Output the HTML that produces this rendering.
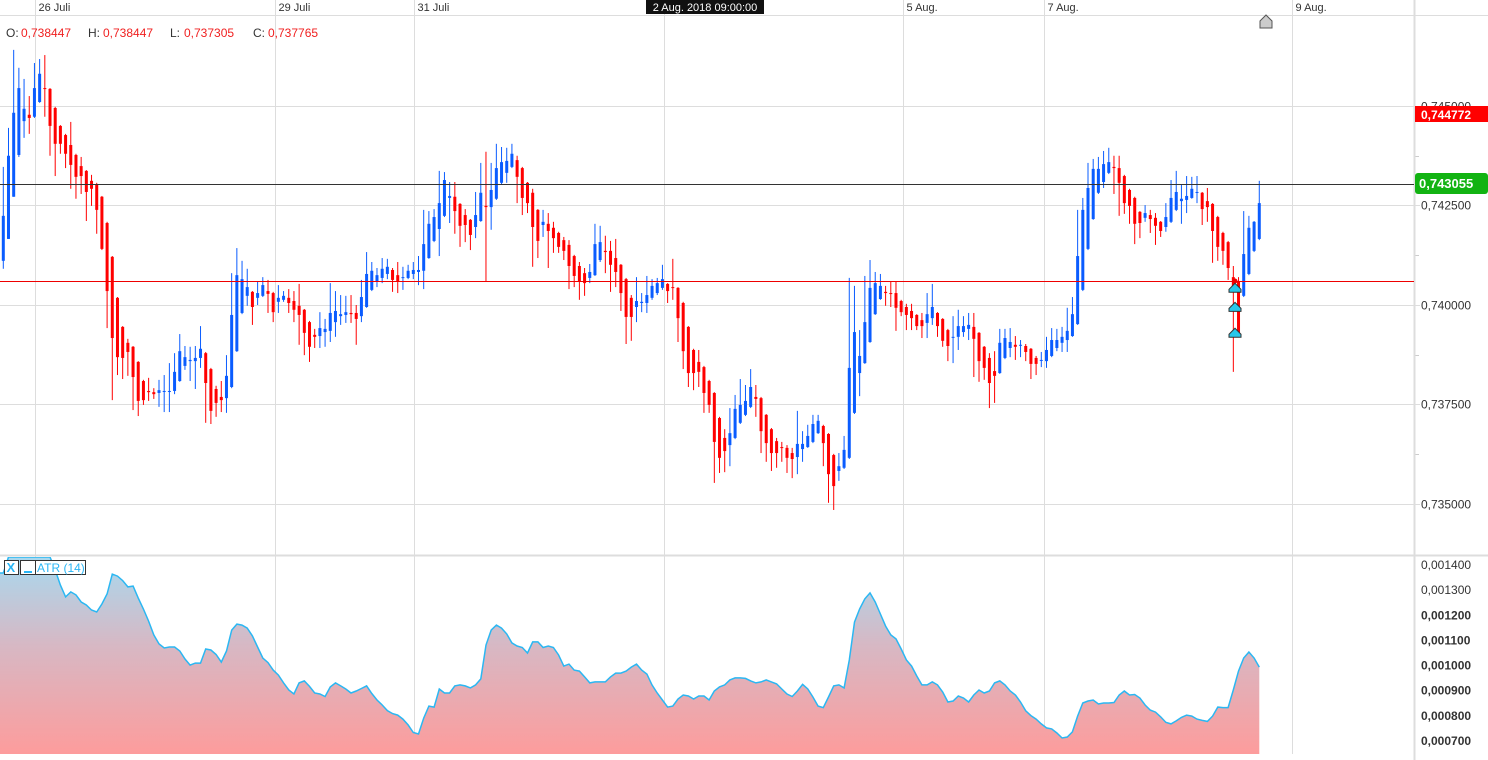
<!DOCTYPE html>
<html><head><meta charset="utf-8"><style>
body{margin:0;background:#fff;width:1488px;height:760px;overflow:hidden;font-family:"Liberation Sans",Arial,sans-serif}
svg{display:block}
text{font-family:"Liberation Sans",Arial,sans-serif}
</style></head><body>
<svg id="chart" width="1488" height="760" viewBox="0 0 1488 760" xmlns="http://www.w3.org/2000/svg">
<defs>
<linearGradient id="atrGrad" x1="0" y1="0" x2="0" y2="1">
<stop offset="0" stop-color="#a8d9ef"/><stop offset="0.45" stop-color="#d7b8c4"/><stop offset="1" stop-color="#fd9c9c"/>
</linearGradient>
<clipPath id="atrClip"><rect x="0" y="557" width="1414" height="198"/></clipPath>
</defs>
<g id="grid"></g>
<g id="atr" clip-path="url(#atrClip)"></g>
<g id="candles"></g>
<g id="overlay"></g>
</svg>
<script>
const opens=[0.74111,0.74166,0.74272,0.74377,0.74462,0.74478,0.74473,0.74510,0.74545,0.74543,0.74495,0.74450,0.74427,0.74402,0.74377,0.74349,0.74337,0.74312,0.74304,0.74272,0.74206,0.74121,0.74018,0.73945,0.73905,0.73895,0.73857,0.73809,0.73784,0.73781,0.73779,0.73783,0.73783,0.73784,0.73809,0.73847,0.73859,0.73859,0.73867,0.73879,0.73839,0.73789,0.73769,0.73766,0.73794,0.73884,0.73980,0.74023,0.74033,0.74018,0.74023,0.74035,0.74030,0.74008,0.74013,0.74018,0.74010,0.73998,0.73988,0.73957,0.73925,0.73922,0.73932,0.73935,0.73957,0.73972,0.73975,0.73980,0.73980,0.73972,0.73995,0.74038,0.74060,0.74068,0.74078,0.74088,0.74075,0.74069,0.74068,0.74078,0.74083,0.74086,0.74118,0.74161,0.74191,0.74224,0.74269,0.74272,0.74254,0.74226,0.74214,0.74196,0.74211,0.74249,0.74246,0.74267,0.74307,0.74332,0.74347,0.74364,0.74344,0.74307,0.74282,0.74239,0.74201,0.74204,0.74194,0.74181,0.74163,0.74151,0.74123,0.74098,0.74080,0.74068,0.74075,0.74113,0.74136,0.74136,0.74118,0.74101,0.74065,0.74018,0.73995,0.74005,0.74005,0.74018,0.74030,0.74043,0.74053,0.74045,0.74043,0.74005,0.73945,0.73887,0.73857,0.73844,0.73809,0.73779,0.73716,0.73666,0.73648,0.73666,0.73704,0.73724,0.73744,0.73769,0.73766,0.73724,0.73688,0.73658,0.73643,0.73641,0.73628,0.73618,0.73638,0.73643,0.73656,0.73678,0.73696,0.73676,0.73623,0.73583,0.73591,0.73616,0.73729,0.73829,0.73854,0.73907,0.73977,0.74015,0.74033,0.74030,0.74030,0.74010,0.73995,0.73985,0.73975,0.73962,0.73955,0.73967,0.73980,0.73965,0.73937,0.73919,0.73920,0.73932,0.73940,0.73945,0.73930,0.73895,0.73867,0.73834,0.73829,0.73867,0.73892,0.73900,0.73899,0.73897,0.73890,0.73867,0.73861,0.73859,0.73872,0.73892,0.73905,0.73912,0.73922,0.73952,0.74038,0.74141,0.74216,0.74282,0.74309,0.74332,0.74347,0.74344,0.74324,0.74289,0.74269,0.74234,0.74219,0.74226,0.74219,0.74209,0.74196,0.74209,0.74239,0.74261,0.74264,0.74269,0.74282,0.74282,0.74261,0.74254,0.74221,0.74181,0.74158,0.74070,0.74058,0.74023,0.74078,0.74136,0.74166];
const closes=[0.74224,0.74375,0.74483,0.74545,0.74493,0.74470,0.74545,0.74581,0.74543,0.74450,0.74405,0.74405,0.74380,0.74352,0.74322,0.74324,0.74284,0.74292,0.74239,0.74141,0.74035,0.73917,0.73869,0.73867,0.73882,0.73819,0.73759,0.73761,0.73781,0.73776,0.73786,0.73784,0.73784,0.73832,0.73884,0.73869,0.73862,0.73867,0.73890,0.73804,0.73734,0.73754,0.73761,0.73822,0.73975,0.74075,0.74065,0.74045,0.73995,0.74030,0.74050,0.74028,0.73982,0.74018,0.74023,0.74005,0.73988,0.73975,0.73930,0.73895,0.73920,0.73942,0.73940,0.73980,0.73985,0.73977,0.73982,0.73977,0.73965,0.74020,0.74078,0.74086,0.74075,0.74091,0.74096,0.74063,0.74058,0.74070,0.74086,0.74088,0.74088,0.74153,0.74204,0.74221,0.74256,0.74314,0.74274,0.74236,0.74199,0.74201,0.74176,0.74226,0.74282,0.74246,0.74289,0.74344,0.74359,0.74362,0.74380,0.74322,0.74269,0.74256,0.74196,0.74161,0.74209,0.74186,0.74168,0.74146,0.74136,0.74098,0.74073,0.74060,0.74055,0.74083,0.74153,0.74158,0.74133,0.74101,0.74083,0.74030,0.73970,0.73970,0.74010,0.74008,0.74025,0.74048,0.74055,0.74065,0.74035,0.74043,0.73967,0.73884,0.73829,0.73829,0.73832,0.73779,0.73749,0.73656,0.73616,0.73633,0.73678,0.73739,0.73749,0.73759,0.73794,0.73764,0.73683,0.73653,0.73628,0.73628,0.73641,0.73616,0.73613,0.73651,0.73651,0.73671,0.73701,0.73709,0.73653,0.73575,0.73545,0.73595,0.73636,0.73842,0.73932,0.73872,0.73957,0.74043,0.74055,0.74048,0.74030,0.74028,0.73993,0.73982,0.73975,0.73967,0.73947,0.73947,0.73977,0.73995,0.73947,0.73910,0.73897,0.73920,0.73947,0.73947,0.73950,0.73915,0.73859,0.73842,0.73804,0.73822,0.73905,0.73917,0.73907,0.73895,0.73900,0.73882,0.73852,0.73852,0.73862,0.73887,0.73912,0.73912,0.73920,0.73935,0.73977,0.74123,0.74239,0.74294,0.74342,0.74342,0.74354,0.74359,0.74344,0.74307,0.74256,0.74249,0.74204,0.74206,0.74231,0.74216,0.74199,0.74186,0.74221,0.74269,0.74284,0.74267,0.74274,0.74292,0.74284,0.74241,0.74246,0.74186,0.74146,0.74136,0.74093,0.74045,0.73925,0.74128,0.74194,0.74209,0.74256];
const highs=[0.74347,0.74445,0.74641,0.74596,0.74568,0.74525,0.74608,0.74618,0.74628,0.74545,0.74498,0.74452,0.74430,0.74460,0.74380,0.74372,0.74339,0.74327,0.74307,0.74274,0.74209,0.74123,0.74020,0.73947,0.73915,0.73897,0.73859,0.73812,0.73817,0.73791,0.73812,0.73824,0.73854,0.73879,0.73927,0.73897,0.73895,0.73897,0.73947,0.73882,0.73842,0.73797,0.73809,0.73874,0.74080,0.74143,0.74111,0.74091,0.74035,0.74058,0.74070,0.74063,0.74033,0.74050,0.74035,0.74040,0.74035,0.74053,0.73990,0.73960,0.73940,0.73982,0.73965,0.74055,0.74035,0.74025,0.74023,0.74025,0.74000,0.74063,0.74133,0.74108,0.74093,0.74118,0.74116,0.74093,0.74108,0.74096,0.74101,0.74108,0.74123,0.74239,0.74236,0.74241,0.74337,0.74334,0.74309,0.74309,0.74256,0.74241,0.74216,0.74284,0.74357,0.74385,0.74357,0.74405,0.74397,0.74395,0.74405,0.74375,0.74347,0.74309,0.74292,0.74241,0.74239,0.74231,0.74209,0.74184,0.74171,0.74163,0.74126,0.74108,0.74093,0.74103,0.74204,0.74199,0.74174,0.74161,0.74166,0.74103,0.74068,0.74025,0.74070,0.74030,0.74073,0.74065,0.74068,0.74101,0.74055,0.74116,0.74045,0.74008,0.73947,0.73890,0.73887,0.73847,0.73812,0.73781,0.73719,0.73688,0.73741,0.73774,0.73814,0.73799,0.73839,0.73799,0.73769,0.73726,0.73691,0.73666,0.73656,0.73648,0.73641,0.73734,0.73683,0.73699,0.73724,0.73724,0.73699,0.73678,0.73626,0.73628,0.73671,0.74068,0.74048,0.73937,0.74073,0.74113,0.74083,0.74078,0.74048,0.74058,0.74058,0.74013,0.74003,0.74003,0.73977,0.73980,0.74030,0.74053,0.73982,0.73967,0.73940,0.73972,0.73988,0.73972,0.73980,0.73980,0.73932,0.73897,0.73879,0.73884,0.73940,0.73940,0.73942,0.73922,0.73912,0.73902,0.73892,0.73872,0.73882,0.73920,0.73942,0.73940,0.73945,0.73993,0.74020,0.74239,0.74269,0.74357,0.74367,0.74372,0.74387,0.74395,0.74375,0.74375,0.74327,0.74292,0.74272,0.74236,0.74251,0.74239,0.74231,0.74211,0.74256,0.74314,0.74337,0.74304,0.74324,0.74322,0.74324,0.74284,0.74294,0.74256,0.74224,0.74184,0.74161,0.74098,0.74070,0.74236,0.74224,0.74211,0.74312];
const lows=[0.74091,0.74166,0.74272,0.74372,0.74420,0.74430,0.74470,0.74508,0.74473,0.74375,0.74324,0.74380,0.74344,0.74292,0.74267,0.74279,0.74211,0.74249,0.74179,0.74138,0.73942,0.73761,0.73824,0.73814,0.73822,0.73736,0.73721,0.73749,0.73759,0.73764,0.73744,0.73731,0.73731,0.73776,0.73807,0.73837,0.73809,0.73789,0.73842,0.73704,0.73701,0.73719,0.73731,0.73729,0.73791,0.73882,0.73977,0.73998,0.73950,0.74000,0.74020,0.73980,0.73957,0.73980,0.74008,0.73980,0.73957,0.73900,0.73874,0.73857,0.73892,0.73892,0.73895,0.73907,0.73920,0.73950,0.73955,0.73955,0.73900,0.73957,0.73993,0.74035,0.74045,0.74055,0.74065,0.74033,0.74030,0.74038,0.74065,0.74065,0.74050,0.74040,0.74116,0.74158,0.74123,0.74221,0.74206,0.74179,0.74146,0.74158,0.74138,0.74168,0.74209,0.74058,0.74189,0.74264,0.74304,0.74307,0.74344,0.74256,0.74226,0.74231,0.74096,0.74118,0.74171,0.74093,0.74131,0.74131,0.74113,0.74040,0.74045,0.74013,0.74023,0.74055,0.74073,0.74108,0.74080,0.74033,0.74045,0.73985,0.73902,0.73910,0.73957,0.73982,0.73980,0.74013,0.74025,0.74038,0.74005,0.74013,0.73907,0.73839,0.73794,0.73786,0.73794,0.73729,0.73729,0.73553,0.73578,0.73580,0.73595,0.73663,0.73701,0.73721,0.73741,0.73719,0.73628,0.73606,0.73583,0.73591,0.73606,0.73578,0.73565,0.73575,0.73606,0.73641,0.73653,0.73676,0.73595,0.73503,0.73485,0.73558,0.73588,0.73613,0.73726,0.73771,0.73852,0.73905,0.73975,0.74013,0.73998,0.73995,0.73935,0.73972,0.73937,0.73937,0.73937,0.73917,0.73917,0.73950,0.73920,0.73895,0.73859,0.73854,0.73887,0.73920,0.73912,0.73819,0.73807,0.73812,0.73741,0.73754,0.73827,0.73864,0.73869,0.73862,0.73869,0.73859,0.73814,0.73824,0.73844,0.73842,0.73869,0.73884,0.73882,0.73882,0.73920,0.73950,0.74035,0.74138,0.74214,0.74279,0.74294,0.74329,0.74279,0.74224,0.74229,0.74204,0.74153,0.74168,0.74209,0.74181,0.74151,0.74171,0.74184,0.74206,0.74236,0.74204,0.74231,0.74267,0.74256,0.74201,0.74209,0.74106,0.74111,0.74101,0.74063,0.73832,0.73920,0.74020,0.74075,0.74133,0.74163];
const atr=[0.001368,0.001432,0.001432,0.001432,0.001432,0.001432,0.001432,0.001432,0.001432,0.001432,0.001380,0.001320,0.001273,0.001293,0.001281,0.001253,0.001241,0.001221,0.001213,0.001245,0.001285,0.001364,0.001356,0.001338,0.001313,0.001316,0.001269,0.001225,0.001177,0.001122,0.001086,0.001070,0.001074,0.001074,0.001058,0.001026,0.001002,0.001010,0.001010,0.001066,0.001062,0.001044,0.001014,0.001058,0.001141,0.001165,0.001161,0.001149,0.001118,0.001074,0.001030,0.001012,0.000982,0.000962,0.000931,0.000903,0.000887,0.000931,0.000939,0.000917,0.000891,0.000887,0.000877,0.000915,0.000931,0.000919,0.000907,0.000891,0.000899,0.000909,0.000919,0.000889,0.000863,0.000843,0.000821,0.000809,0.000803,0.000787,0.000764,0.000734,0.000728,0.000791,0.000839,0.000835,0.000907,0.000891,0.000891,0.000919,0.000923,0.000919,0.000911,0.000923,0.000947,0.001082,0.001141,0.001161,0.001149,0.001126,0.001090,0.001078,0.001072,0.001050,0.001094,0.001094,0.001072,0.001078,0.001072,0.001042,0.000998,0.001006,0.000982,0.000978,0.000955,0.000931,0.000935,0.000935,0.000935,0.000955,0.000970,0.000970,0.000978,0.000994,0.001006,0.000982,0.000966,0.000923,0.000891,0.000863,0.000835,0.000839,0.000867,0.000883,0.000879,0.000867,0.000879,0.000879,0.000863,0.000899,0.000915,0.000923,0.000943,0.000951,0.000951,0.000949,0.000939,0.000931,0.000935,0.000943,0.000935,0.000927,0.000907,0.000887,0.000877,0.000899,0.000925,0.000907,0.000875,0.000839,0.000833,0.000875,0.000919,0.000923,0.000911,0.001022,0.001173,0.001225,0.001265,0.001289,0.001253,0.001205,0.001157,0.001122,0.001106,0.001066,0.001022,0.000998,0.000959,0.000923,0.000923,0.000935,0.000923,0.000895,0.000855,0.000859,0.000879,0.000871,0.000855,0.000883,0.000903,0.000891,0.000899,0.000931,0.000939,0.000923,0.000899,0.000883,0.000855,0.000820,0.000801,0.000787,0.000768,0.000752,0.000748,0.000732,0.000712,0.000716,0.000736,0.000799,0.000851,0.000859,0.000863,0.000847,0.000851,0.000851,0.000853,0.000883,0.000899,0.000883,0.000885,0.000871,0.000843,0.000823,0.000815,0.000796,0.000774,0.000768,0.000780,0.000794,0.000803,0.000799,0.000787,0.000782,0.000778,0.000799,0.000835,0.000833,0.000833,0.000903,0.000978,0.001030,0.001054,0.001030,0.000994];
const priceTicks=[0.745,0.7425,0.74,0.7375,0.735];
const priceTickLabels=["0,745000","0,742500","0,740000","0,737500","0,735000"];
const atrTicks=[0.0014,0.0013,0.0012,0.0011,0.0010,0.0009,0.0008,0.0007];
const atrTickLabels=["0,001400","0,001300","0,001200","0,001100","0,001000","0,000900","0,000800","0,000700"];
const dateLabels=["26 Juli","29 Juli","31 Juli","5 Aug.","7 Aug.","9 Aug."];
const dateCandleIdx=[6.1,52.4,79.2,173.4,200.5,248.3];
const markerPrices=[0.74042,0.73994,0.73929];

const NS="http://www.w3.org/2000/svg";
function xOf(i){return 3.3+5.19*i;}
function yP(p){return 504-(p-0.735)*39800;}
function yA(v){return 565+(0.0014-v)*251429;}
function mk(tag,attrs,parent,txt){const e=document.createElementNS(NS,tag);for(const k in attrs)e.setAttribute(k,attrs[k]);if(txt!==undefined)e.textContent=txt;parent.appendChild(e);return e;}
const grid=document.getElementById('grid'),cg=document.getElementById('candles'),ov=document.getElementById('overlay'),ag=document.getElementById('atr');

// vertical grid + date labels
mk('line',{x1:0,y1:15.5,x2:1488,y2:15.5,stroke:'#ddd','stroke-width':1},grid);
dateLabels.forEach((lab,k)=>{
  const x=Math.round(xOf(dateCandleIdx[k]))+0.5;
  const l=mk('line',{x1:x,y1:0,x2:x,y2:754,stroke:'#ddd','stroke-width':1},grid);
  
  
  const t=mk('text',{x:x+3,y:11,'font-size':11,fill:'#333'},grid,lab);
  
  
});
{const x=664.5;mk('line',{x1:x,y1:0,x2:x,y2:754,stroke:'#ddd'},grid);}
// horizontal price grid
priceTicks.forEach((p,k)=>{
  const y=Math.round(yP(p))+0.5;
  mk('line',{x1:0,y1:y,x2:1420,y2:y,stroke:'#ddd'},grid);
  const t=mk('text',{x:1421,y:y+4,'font-size':12,fill:'#333'},grid,priceTickLabels[k]);
  
  
});
[0.74375,0.74125,0.73875,0.73625].forEach(p=>{const y=Math.round(yP(p))+0.5;mk('line',{x1:1414,y1:y,x2:1419,y2:y,stroke:'#ccc'},grid);});
// right axis border and panel separator
mk('line',{x1:1414.5,y1:0,x2:1414.5,y2:760,stroke:'#ddd','stroke-width':2},grid);
mk('line',{x1:0,y1:555.5,x2:1488,y2:555.5,stroke:'#ddd','stroke-width':2},grid);
atrTicks.forEach((v,k)=>{
  const y=yA(v);
  const t=mk('text',{x:1421,y:y+4,'font-size':12,fill:'#333','font-weight':(k>=2?'bold':'normal')},grid,atrTickLabels[k]);
  
  
});

// ATR area
let d='M0,754 L0,'+yA(atr[0]).toFixed(1);
let ld='M0,'+yA(atr[0]).toFixed(1);
atr.forEach((v,i)=>{d+=' L'+xOf(i).toFixed(1)+','+yA(v).toFixed(1);ld+=' L'+xOf(i).toFixed(1)+','+yA(v).toFixed(1);});
d+=' L'+xOf(atr.length-1).toFixed(1)+',754 Z';
const area=mk('path',{d:d,fill:'url(#atrGrad)'},ag);


const aline=mk('path',{d:ld,fill:'none',stroke:'#2bb7f2','stroke-width':1.5},ag);



// horizontal reference lines
const hl1=mk('line',{x1:0,y1:184.5,x2:1414,y2:184.5,stroke:'#333','stroke-width':1},ov);


const hl2=mk('line',{x1:0,y1:281.5,x2:1414,y2:281.5,stroke:'#e00','stroke-width':1},ov);



// candles
for(let i=0;i<closes.length;i++){
  const x=xOf(i),o=opens[i],c=closes[i];
  const up=c>=o,col=up?'#0a5cff':'#ff0000';
  const hi=Math.max(highs[i],o,c),lo=Math.min(lows[i],o,c);
  const w=mk('line',{x1:x,y1:yP(hi),x2:x,y2:yP(lo),stroke:col,'stroke-width':1},cg);
  
  
  const yt=yP(Math.max(o,c)),yb=yP(Math.min(o,c));
  const b=mk('rect',{x:x-1.5,y:yt,width:3,height:Math.max(1,yb-yt),fill:col},cg);
  
  
}

// markers
const mx=1235;
mk('circle',{cx:mx,cy:281,r:2.5,fill:'#e00'},ov);
markerPrices.forEach(p=>{
  const y=yP(p);
  const m=mk('path',{d:`M${mx-6},${y+4} L${mx-6},${y+1} L${mx},${y-5} L${mx+6},${y+1} L${mx+6},${y+4} Z`,fill:'#29c7ea',stroke:'#333','stroke-width':1},ov);
  
  
});
</script>
<svg style="position:absolute;left:0;top:0" width="1488" height="760">
<rect x="646" y="0" width="118" height="14" fill="#111"/>
<text x="705" y="11" text-anchor="middle" font-size="11" fill="#fff">2 Aug. 2018 09:00:00</text>
<g font-size="12">
<text x="6" y="37" fill="#333">O:</text><text x="21" y="37" fill="#f02020">0,738447</text>
<text x="88" y="37" fill="#333">H:</text><text x="103" y="37" fill="#f02020">0,738447</text>
<text x="170" y="37" fill="#333">L:</text><text x="184" y="37" fill="#f02020">0,737305</text>
<text x="253" y="37" fill="#333">C:</text><text x="268" y="37" fill="#f02020">0,737765</text>
</g>
<path d="M1260,28 L1260,21 L1266,15 L1272,21 L1272,28 Z" fill="#ccc" stroke="#555" stroke-width="1"/>
<rect x="1415" y="106" width="73" height="16" fill="#ff0000"/>
<text x="1421" y="119" font-size="12" font-weight="bold" fill="#fff">0,744772</text>
<rect x="1415" y="173" width="73" height="21" rx="3" fill="#12b312"/>
<text x="1419" y="188" font-size="13" font-weight="bold" fill="#fff">0,743055</text>
<g>
<rect x="4.5" y="560.5" width="14" height="14" fill="#fff" stroke="#333"/>
<text x="6.5" y="572" font-size="13" font-weight="bold" fill="#29b6f6">X</text>
<rect x="20.5" y="560.5" width="15" height="14" fill="#fff" stroke="#333"/>
<rect x="24" y="571" width="8" height="2" fill="#29b6f6"/>
<rect x="35.5" y="560.5" width="50" height="14" fill="#fff" stroke="#333"/>
<text x="37" y="572" font-size="12" fill="#29b6f6">ATR (14)</text>
</g>
</svg>
</body></html>
